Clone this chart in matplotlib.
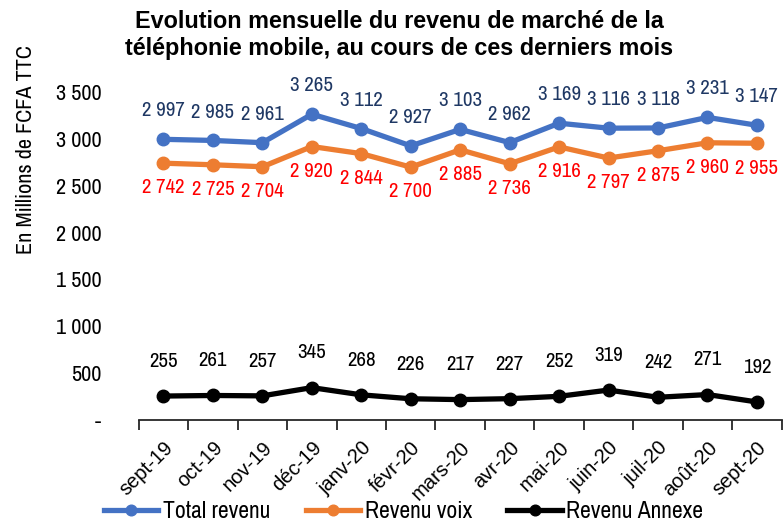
import matplotlib
matplotlib.use("Agg")
import matplotlib.pyplot as plt
from matplotlib import font_manager as fm
import numpy as np

months = ["sept-19", "oct-19", "nov-19", "déc-19", "janv-20", "févr-20", "mars-20",
          "avr-20", "mai-20", "juin-20", "juil-20", "août-20", "sept-20"]
total = [2997, 2985, 2961, 3265, 3112, 2927, 3103, 2962, 3169, 3116, 3118, 3231, 3147]
voix = [2742, 2725, 2704, 2920, 2844, 2700, 2885, 2736, 2916, 2797, 2875, 2960, 2955]
annexe = [255, 261, 257, 345, 268, 226, 217, 227, 252, 319, 242, 271, 192]
yticks = [0, 500, 1000, 1500, 2000, 2500, 3000, 3500]

# pick a condensed Arial-like face if one is installed
installed = {f.name for f in fm.fontManager.ttflist}
narrow_prefs = ["Liberation Sans Narrow", "Arial Narrow", "Archivo Narrow", "PT Sans Narrow",
                "Roboto Condensed", "Fira Sans Condensed", "IBM Plex Sans Condensed",
                "Encode Sans Condensed", "Open Sans Condensed", "Asap Condensed"]
narrow = next((n for n in narrow_prefs if n in installed), None)
REG = ["Liberation Sans", "DejaVu Sans"]
if narrow:
    NF = [narrow] + REG
    FS, YFS, LFS, YLFS = 15, 16, 17, 16
else:
    NF = REG
    FS, YFS, LFS, YLFS = 12.5, 13, 14.5, 13.5
plt.rcParams['font.family'] = NF


def fmt(v):
    if v == 0:
        return "-"
    return f"{v:,}".replace(",", " ")


fig = plt.figure(figsize=(7.84, 5.21), dpi=100)
ax = fig.add_axes([0.177, 0.194, 0.82, 0.629])
x = np.arange(len(months))

ax.plot(x, total, color="#4472C4", lw=3.8, marker="o", ms=9, label="Total revenu")
ax.plot(x, voix, color="#ED7D31", lw=3.8, marker="o", ms=9, label="Revenu voix")
ax.plot(x, annexe, color="black", lw=3.8, marker="o", ms=9, label="Revenu Annexe")

for xi, v in zip(x, total):
    ax.annotate(fmt(v), (xi, v), xytext=(0, 16.5), textcoords="offset points",
                ha="center", va="baseline", fontsize=FS, color="#1F3864", clip_on=False)
for xi, v in zip(x, voix):
    ax.annotate(fmt(v), (xi, v), xytext=(0, -11), textcoords="offset points",
                ha="center", va="top", fontsize=FS, color="#FF0000", clip_on=False)
for xi, v in zip(x, annexe):
    ax.annotate(fmt(v), (xi, v), xytext=(0, 21), textcoords="offset points",
                ha="center", va="baseline", fontsize=FS, color="black", clip_on=False)

ax.set_xlim(-0.5, len(months) - 0.5)
ax.set_ylim(0, 3500)
ax.set_yticks(yticks)
ax.set_yticklabels([fmt(v) for v in yticks], fontsize=YFS)
ax.tick_params(axis="y", length=0, pad=27)

ax.set_xticks(x)
ax.set_xticklabels(months, rotation=45, ha="right", rotation_mode="anchor",
                   fontsize=14.5, family=REG)
ax.tick_params(axis="x", which="major", length=0, pad=13)
ax.set_xticks(np.arange(-0.5, len(months), 1.0), minor=True)
ax.tick_params(axis="x", which="minor", length=7, width=1.3, color="#262626")

for s in ["top", "right", "left"]:
    ax.spines[s].set_visible(False)
ax.spines["bottom"].set_color("#262626")
ax.spines["bottom"].set_linewidth(1.3)

fig.text(0.033, 0.712, "En Millions de FCFA TTC", rotation=90, ha="center", va="center",
         fontsize=YLFS)
fig.text(0.509, 0.98, "Evolution mensuelle du revenu de marché de la\ntéléphonie mobile, au cours de ces derniers mois",
         ha="center", va="top", fontsize=16.8, fontweight="bold", linespacing=1.22,
         family=REG)

fig.legend(loc="center", bbox_to_anchor=(0.515, 0.018), ncol=3, frameon=False,
           fontsize=LFS, handlelength=2.3, columnspacing=1.5, handletextpad=0.2,
           markerscale=0.85)

fig.savefig("out.png", dpi=100)
